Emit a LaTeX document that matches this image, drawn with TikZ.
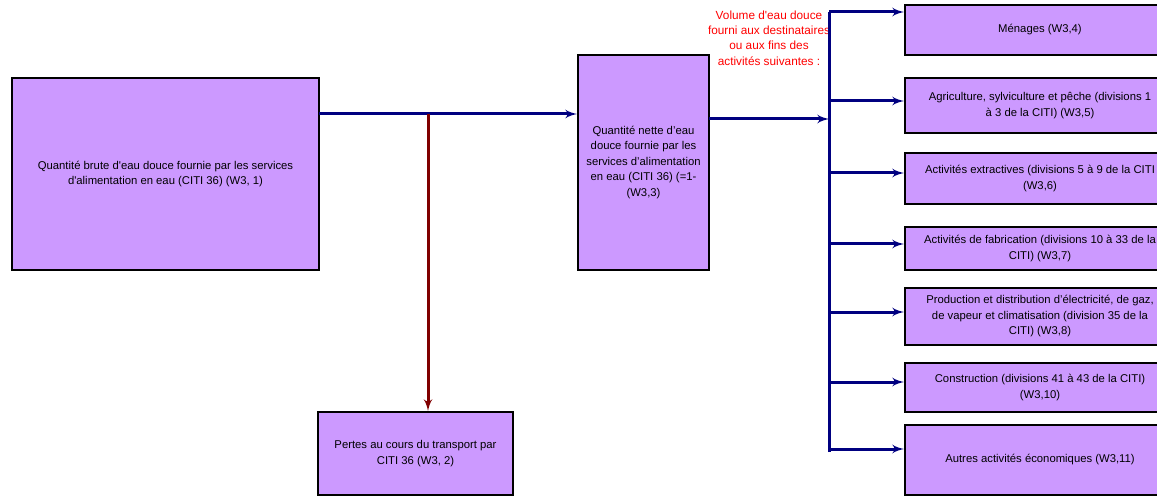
\documentclass[tikz,border=0pt]{standalone}
\usepackage{fontspec}
\setmainfont{Liberation Sans}
\usepackage{tikz}
\usetikzlibrary{arrows}
\definecolor{boxfill}{RGB}{204,153,255}
\definecolor{flowblue}{RGB}{0,0,128}
\definecolor{lossred}{RGB}{128,0,0}
\tikzstyle{box} = [draw=black, line width=2pt, fill=boxfill, align=center, inner sep=2pt,
                   font=\fontsize{11.3}{15.5}\selectfont]
\tikzstyle{line} = [draw=flowblue, line width=3pt, -latex']
\tikzstyle{loss} = [draw=lossred, line width=3pt, -latex']

\begin{document}
\begin{tikzpicture}[x=1pt,y=-1pt]
    \useasboundingbox (0,0) rectangle (1157,497);
    \clip (0,0) rectangle (1157,497);

        \node[box,minimum width=307,minimum height=192] (GB) at (165.5,174)
            {Quantité brute d\textquotesingle eau douce fournie par les services\\d\textquotesingle alimentation en eau (CITI 36) (W3, 1)};
        \node[box,minimum width=131,minimum height=215] (NS) at (643.5,162.5)
            {Quantité nette d’eau\\douce fournie par les\\services d’alimentation\\en eau (CITI 36) (=1-\\(W3,3)};
        \node[box,minimum width=195,minimum height=83] (LT) at (415.5,453.5)
            {Pertes au cours du transport par\\CITI 36 (W3, 2)};

        \node[box,minimum width=270,minimum height=50] (HH) at (1040,30) {Ménages (W3,4)};
        \node[box,minimum width=270,minimum height=55] (AG) at (1040,105.5)
            {Agriculture, sylviculture et pêche (divisions 1\\à 3 de la CITI) (W3,5)};
        \node[box,minimum width=270,minimum height=51] (MI) at (1040,178.5)
            {Activités extractives (divisions 5 à 9 de la CITI\\(W3,6)};
        \node[box,minimum width=270,minimum height=43] (MF) at (1040,248.5)
            {Activités de fabrication (divisions 10 à 33 de la\\CITI) (W3,7)};
        \node[box,minimum width=270,minimum height=57] (EL) at (1040,316.5)
            {Production et distribution d’électricité, de gaz,\\de vapeur et climatisation (division 35 de la\\CITI) (W3,8)};
        \node[box,minimum width=270,minimum height=49] (CO) at (1040,387.5)
            {Construction (divisions 41 à 43 de la CITI)\\(W3,10)};
        \node[box,minimum width=270,minimum height=70] (OT) at (1040,460)
            {Autres activités économiques (W3,11)};

        \node[text=red,align=center,font=\fontsize{11.8}{15.3}\selectfont] (VOL) at (769,38)
            {Volume d\textquotesingle eau douce\\fourni aux destinataires\\ou aux fins des\\activités suivantes :};

    % main flow
    \coordinate (GBout) at (319,114);
    \coordinate (split) at (428,114);
    \coordinate (NSout) at (709,119);
    \coordinate (bustop) at (829,12);
    \coordinate (busbot) at (829,452);
    \path[line] (GBout) -- (GBout -| NS.west);
    \path[loss] (split) -- (split |- LT.north);
    \path[line] (NSout) -- (NSout -| bustop);
    \draw[flowblue,line width=3pt] (busbot) -- (bustop);

    % branches
    \foreach \n/\y in {HH/12,AG/101,MI/173,MF/244,EL/312,CO/382,OT/449}{
        \coordinate (b\n) at (829,\y);
        \path[line] (b\n) -- (b\n -| \n.west);
    }
\end{tikzpicture}
\end{document}
